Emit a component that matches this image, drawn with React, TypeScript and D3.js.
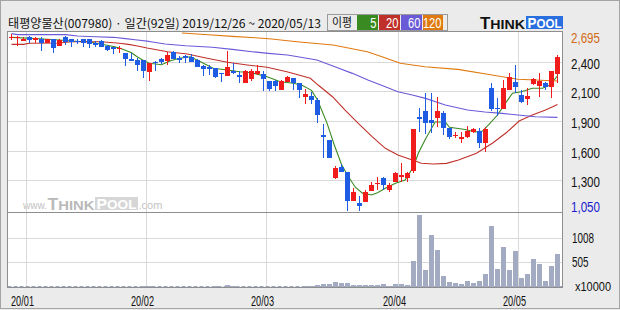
import React from "react";
import * as d3 from "d3";

const W = 620;
const H = 310;

const title = "태평양물산(007980) · 일간(92일) 2019/12/26 ~ 2020/05/13";
const legendTitle = "이평";
const maNames = ["5", "20", "60", "120"];
const maColors = ["#3a8a22", "#c0302a", "#6a5ad8", "#e07a10"];
const monthIdx = [3, 23, 43, 65, 85];
const monthLabels = ["20/01", "20/02", "20/03", "20/04", "20/05"];
const priceTickLabels = ["2,695", "2,400", "2,100", "1,900", "1,600", "1,300", "1,050"];
const priceMax = 2695;
const priceMin = 1050;
const volMax = 1512;
const volTickValues = [1008, 504];
const volTickLabels = ["1008", "505"];
const volUnit = "x10000";

const open = [
  2649, 2650, 2624, 2658, 2627, 2639, 2605, 2639, 2577, 2658, 2636, 2621, 2639, 2636, 2605, 2618,
  2577, 2565, 2555, 2507, 2457, 2445, 2445, 2337, 2430, 2452, 2439, 2516, 2464, 2482, 2476, 2445,
  2390, 2383, 2371, 2325, 2297, 2341, 2310, 2236, 2270, 2316, 2313, 2251, 2254, 2168, 2245, 2276,
  2230, 2100, 2113, 2076, 1752, 1706, 1358, 1459, 1413, 1145, 1127, 1130, 1238, 1300, 1358, 1244,
  1315, 1367, 1352, 1422, 1916, 1974, 1891, 1912, 1958, 1814, 1745, 1712, 1737, 1783, 1789, 1681,
  2189, 2002, 1992, 2168, 2242, 2122, 2085, 2221, 2205, 2236, 2199, 2316,
];
const high = [
  2689, 2667, 2655, 2665, 2655, 2655, 2642, 2642, 2637, 2667, 2640, 2636, 2642, 2640, 2621, 2630,
  2580, 2568, 2577, 2510, 2513, 2461, 2450, 2420, 2439, 2464, 2522, 2528, 2482, 2491, 2500, 2452,
  2399, 2399, 2371, 2325, 2531, 2414, 2346, 2353, 2365, 2399, 2346, 2251, 2263, 2260, 2300, 2276,
  2230, 2174, 2152, 2091, 1854, 1706, 1466, 1487, 1413, 1260, 1189, 1244, 1321, 1361, 1367, 1306,
  1413, 1491, 1407, 1808, 2001, 2140, 2143, 2101, 1974, 1814, 1777, 1783, 1835, 1820, 1814, 1823,
  2235, 2091, 2260, 2328, 2399, 2168, 2189, 2282, 2322, 2245, 2344, 2491,
];
const low = [
  2633, 2577, 2621, 2605, 2605, 2531, 2600, 2507, 2577, 2587, 2568, 2590, 2568, 2559, 2568, 2568,
  2528, 2503, 2513, 2393, 2439, 2344, 2282, 2251, 2347, 2408, 2402, 2452, 2414, 2420, 2424, 2383,
  2300, 2307, 2276, 2239, 2297, 2316, 2230, 2230, 2248, 2307, 2159, 2159, 2159, 2168, 2240, 2170,
  2097, 2041, 2036, 1866, 1542, 1542, 1346, 1408, 1053, 1145, 1053, 1130, 1238, 1244, 1244, 1228,
  1315, 1321, 1321, 1398, 1783, 1761, 1768, 1829, 1752, 1712, 1725, 1681, 1722, 1768, 1635, 1598,
  1977, 1928, 1992, 2168, 2143, 2051, 2029, 2214, 2106, 2168, 2091, 2230,
];
const close = [
  2661, 2657, 2639, 2627, 2646, 2599, 2639, 2559, 2627, 2609, 2609, 2612, 2605, 2596, 2584, 2568,
  2540, 2550, 2560, 2452, 2439, 2402, 2347, 2420, 2420, 2430, 2491, 2452, 2445, 2464, 2424, 2383,
  2365, 2359, 2291, 2315, 2381, 2328, 2291, 2344, 2347, 2344, 2270, 2177, 2205, 2251, 2291, 2230,
  2168, 2128, 2076, 1937, 1737, 1542, 1450, 1408, 1145, 1223, 1099, 1223, 1290, 1312, 1290, 1290,
  1398, 1383, 1398, 1808, 1900, 1866, 1866, 1974, 1820, 1737, 1755, 1731, 1789, 1808, 1681, 1808,
  1992, 1990, 2189, 2285, 2199, 2060, 2115, 2267, 2251, 2199, 2344, 2476,
];
const volume = [
  6, 5, 7, 5, 6, 8, 5, 9, 6, 7, 5, 6, 7, 5, 6, 8, 6, 7, 5, 9, 8, 10,
  22,
  12, 8, 7, 9, 8, 7, 6, 8, 7, 9, 10, 12, 9,
  42,
  14, 10, 9, 8, 8, 10, 9, 8, 7, 9, 8, 10,
  14, 21, 35, 63, 63, 98, 84, 84, 42, 42, 42, 42, 42, 63, 14, 63, 63, 42,
  537, 1512, 348, 1087, 767, 223, 98, 84, 63, 118, 84, 118, 265,
  1268, 369, 829, 348, 746, 181, 265, 578, 481, 118, 432, 683,
];

// moving averages: [day index, price]
const ma5 = [
  [0, 2655], [4, 2644], [8, 2630], [10, 2621], [13, 2612], [15, 2591], [17, 2570], [18, 2556],
  [20, 2513], [21, 2473], [22, 2441], [23, 2415], [25, 2402], [26.5, 2439], [28, 2461],
  [29.8, 2476], [31.5, 2430], [33.6, 2369], [36, 2353], [38, 2337], [40, 2328], [42.6, 2291],
  [44.8, 2245], [47, 2230], [48.5, 2210], [50, 2165], [51, 2076], [52.6, 1860], [53.8, 1660],
  [55, 1480], [56, 1380], [57.3, 1270], [58.5, 1215], [60, 1198], [61, 1219], [62.3, 1260],
  [64, 1306], [65.6, 1336], [67, 1459], [67.8, 1583], [69, 1715], [70.6, 1872], [72.3, 1872],
  [73, 1823], [75.6, 1803], [77.3, 1780], [78.5, 1789], [79.5, 1845], [81, 1937], [82.3, 2045],
  [83.5, 2138], [85, 2152], [86.8, 2184], [88.5, 2184], [89.8, 2214], [91, 2300],
];
const ma20 = [
  [0, 2590], [2, 2590], [3, 2600], [8, 2602], [10, 2614], [15, 2614], [17, 2605], [18, 2600],
  [19.5, 2590], [21, 2575], [22.6, 2556], [26, 2522], [29.3, 2501], [32.6, 2461], [36, 2424],
  [39.3, 2399], [42.6, 2378], [45.9, 2337], [49.8, 2276], [51.1, 2214], [53.5, 2106],
  [55.6, 1983], [57.8, 1860], [60.1, 1737], [62.3, 1629], [64.4, 1567], [66.8, 1521],
  [68.3, 1491], [70.3, 1484], [72.5, 1490], [74.5, 1521], [77.5, 1583], [80.2, 1678],
  [82.5, 1775], [84.6, 1882], [86.8, 1937], [89, 1983], [91, 2035],
];
const ma60 = [
  [0, 2689], [1, 2680], [9, 2680], [11, 2667], [14, 2661], [17, 2655], [19, 2643], [20.6, 2633],
  [22.6, 2620], [23.5, 2612], [25.6, 2593], [29, 2577], [33.5, 2563], [36.8, 2544], [40.1, 2522],
  [42.8, 2507], [46, 2491], [50.9, 2445], [53.9, 2383], [56.8, 2322], [59.4, 2260], [62.3, 2199],
  [64.4, 2152], [66.8, 2122], [69, 2091], [72.3, 2029], [76, 1983], [78.9, 1965], [81.8, 1952],
  [84.4, 1937], [87.3, 1921], [91, 1915],
];
const ma120 = [
  [28.4, 2695], [32.8, 2679], [36.8, 2664], [40.6, 2651], [43.4, 2639], [46, 2624], [48, 2612],
  [53.6, 2584], [59.3, 2522], [62, 2470], [64.8, 2415], [68.9, 2383], [74.4, 2359], [80.1, 2307],
  [84.4, 2267], [87.3, 2260], [91, 2251],
];
const maSeries = [ma5, ma20, ma60, ma120];

const UP = "#f01c1c";
const DOWN = "#1e5ce4";
const GRID = "#d9d9d9";
const FRAME = "#8e8e8e";
const BG = "#ebebeb";
const VOL = "#a3abc2";
const NUM_FONT = "'Liberation Sans', Arial, sans-serif";
const KR_FONT = "'Noto Sans CJK KR', 'Noto Sans', sans-serif";

export default function App() {
  const n = open.length;
  const plotL = 7.5, plotR = 562.5, priceTop = 31.5, priceBot = 212.5, volBot = 287.5;

  const x = d3.scaleBand<number>().domain(d3.range(n)).range([8, 8 + 6 * n]);
  const xc = d3.scaleLinear().domain([0, 1]).range([(x(0) as number) + 3.5, (x(1) as number) + 3.5]);
  const yP = d3.scaleLinear().domain([priceMin, priceMax]).range([211, 33]);
  const yV = d3.scaleLinear().domain([0, volMax]).range([287, 214.5]);

  const line = d3.line<number[]>().x((d) => xc(d[0])).y((d) => yP(d[1]));

  const priceTicks = d3.range(priceTickLabels.length).map(
    (k) => priceMax - (k * (priceMax - priceMin)) / (priceTickLabels.length - 1)
  );

  const legendBoxes = [
    { x: 357, w: 21 },
    { x: 379, w: 21 },
    { x: 401, w: 21 },
    { x: 423, w: 20 },
  ];

  return (
    <div style={{ position: "absolute", left: 0, top: 0 }}>
      <svg width={W} height={H} style={{ display: "block" }}>
        <rect x={0} y={0} width={W} height={H} fill={BG} />
        <rect x={0.5} y={0.5} width={619} height={308} fill="none" stroke="#a4a4a4" />

        {/* header */}
        <text x={8} y={27.5} fontFamily={KR_FONT} fontSize={12} fill="#111" textLength={313} lengthAdjust="spacingAndGlyphs">
          {title}
        </text>
        <rect x={327.5} y={14.5} width={120} height={16} fill="none" stroke="#9a9a9a" />
        <text x={332} y={27} fontFamily={KR_FONT} fontSize={12} fill="#111" textLength={20} lengthAdjust="spacingAndGlyphs">
          {legendTitle}
        </text>
        {maNames.map((m, i) => (
          <g key={m}>
            <rect x={legendBoxes[i].x} y={15} width={legendBoxes[i].w} height={15} fill={maColors[i]} />
            <text
              x={legendBoxes[i].x + legendBoxes[i].w - 1.5 - m.length * 6.2}
              y={27.5}
              fontFamily={NUM_FONT}
              fontSize={14}
              fill="#fff"
              textLength={m.length * 6.2}
              lengthAdjust="spacingAndGlyphs"
            >
              {m}
            </text>
          </g>
        ))}

        {/* logo */}
        <text x={480} y={28.5} fontFamily={NUM_FONT} fontWeight={900} fill="#111" textLength={45} lengthAdjust="spacingAndGlyphs">
          <tspan fontSize={16}>T</tspan>
          <tspan fontSize={13.5}>HINK</tspan>
        </text>
        <rect x={526} y={16} width={37} height={13} fill="#2a6fe0" />
        <text x={527.5} y={28} fontFamily={NUM_FONT} fontWeight={900} fill="#fff" textLength={34} lengthAdjust="spacingAndGlyphs">
          <tspan fontSize={15}>P</tspan>
          <tspan fontSize={13}>OOL</tspan>
        </text>

        {/* plot backgrounds */}
        <rect x={plotL} y={priceTop} width={plotR - plotL} height={volBot - priceTop} fill="#fff" />

        {/* watermark */}
        <text x={23} y={209} fontFamily={NUM_FONT} fontSize={10} fill="#c2c2c2" textLength={24} lengthAdjust="spacingAndGlyphs">
          www.
        </text>
        <text x={47.5} y={209.5} fontFamily={NUM_FONT} fontWeight={900} fill="#b9b9b9" textLength={47} lengthAdjust="spacingAndGlyphs">
          <tspan fontSize={16}>T</tspan>
          <tspan fontSize={13.5}>HINK</tspan>
        </text>
        <rect x={95} y={197} width={43} height={13} fill="#d6d6d6" />
        <text x={96.5} y={209} fontFamily={NUM_FONT} fontWeight={900} fill="#fff" textLength={40} lengthAdjust="spacingAndGlyphs">
          <tspan fontSize={15}>P</tspan>
          <tspan fontSize={13}>OOL</tspan>
        </text>
        <text x={138.5} y={209} fontFamily={NUM_FONT} fontSize={11} fill="#c2c2c2" textLength={24} lengthAdjust="spacingAndGlyphs">
          .com
        </text>

        {/* grid */}
        <g shapeRendering="crispEdges" stroke={GRID} strokeWidth={1}>
          {priceTicks.slice(1, -1).map((v, k) => {
            const yy = Math.round(yP(v)) - 0.5;
            return <line key={"pg" + k} x1={plotL} x2={plotR} y1={yy} y2={yy} />;
          })}
          {volTickValues.map((v, k) => {
            const yy = Math.round(yV(v)) - 0.5;
            return <line key={"vg" + k} x1={plotL} x2={plotR} y1={yy} y2={yy} />;
          })}
          {monthIdx.map((m, k) => {
            const xx = (x(m) as number) + 0.5;
            return <line key={"mg" + k} x1={xx} x2={xx} y1={priceTop} y2={volBot} />;
          })}
        </g>

        {/* volume */}
        <line x1={plotL} x2={plotR} y1={286.5} y2={286.5} stroke="#9ea6be" strokeDasharray="4,2" />
        <g shapeRendering="crispEdges" fill={VOL}>
          {volume.map((v, i) => (
            <rect key={"v" + i} x={(x(i) as number) + 1} y={yV(v)} width={5} height={yV(0) - yV(v)} />
          ))}
        </g>

        {/* moving averages */}
        <g fill="none" strokeWidth={1.1}>
          {maSeries.map((s, k) => (
            <path key={"ma" + k} d={line(s) || ""} stroke={maColors[k]} />
          ))}
        </g>

        {/* candles */}
        <g shapeRendering="crispEdges">
          {open.map((o, i) => {
            const c = close[i];
            const col = c >= o ? UP : DOWN;
            const cx = (x(i) as number) + 3.5;
            const top = yP(Math.max(o, c));
            const bot = yP(Math.min(o, c));
            return (
              <g key={"c" + i}>
                <line x1={cx} x2={cx} y1={yP(high[i])} y2={yP(low[i])} stroke={col} />
                <rect x={(x(i) as number) + 1} y={top} width={5} height={Math.max(1, bot - top)} fill={col} />
              </g>
            );
          })}
        </g>

        {/* frames */}
        <g fill="none" stroke={FRAME} shapeRendering="crispEdges">
          <rect x={plotL} y={priceTop} width={plotR - plotL} height={priceBot - priceTop} />
          <rect x={plotL} y={priceBot} width={plotR - plotL} height={volBot - priceBot} />
        </g>

        {/* price axis labels */}
        {priceTicks.map((v, k) => {
          const yy = Math.min(Math.max(yP(v) + 1, 38), 207);
          const fill = k === 0 ? "#d06a14" : k === priceTicks.length - 1 ? "#1a1ad0" : "#111";
          return (
            <text
              key={"pl" + k}
              x={571}
              y={yy}
              dominantBaseline="central"
              fontFamily={NUM_FONT}
              fontSize={14.5}
              fill={fill}
              textLength={29}
              lengthAdjust="spacingAndGlyphs"
            >
              {priceTickLabels[k]}
            </text>
          );
        })}

        {/* volume axis labels */}
        {volTickValues.map((v, k) => (
          <text
            key={"vl" + k}
            x={572}
            y={yV(v) - 0.5}
            dominantBaseline="central"
            fontFamily={NUM_FONT}
            fontSize={14.5}
            fill="#111"
            textLength={volTickLabels[k].length * 5.5}
            lengthAdjust="spacingAndGlyphs"
          >
            {volTickLabels[k]}
          </text>
        ))}
        <text x={575} y={287} dominantBaseline="central" fontFamily={NUM_FONT} fontSize={12.5} fill="#111" textLength={36} lengthAdjust="spacingAndGlyphs">
          {volUnit}
        </text>

        {/* month labels */}
        {monthIdx.map((m, k) => (
          <text
            key={"ml" + k}
            x={(x(m) as number) + 0.5 - 4}
            y={301}
            dominantBaseline="central"
            textAnchor="middle"
            fontFamily={NUM_FONT}
            fontSize={14.5}
            fill="#111"
            textLength={23}
            lengthAdjust="spacingAndGlyphs"
          >
            {monthLabels[k]}
          </text>
        ))}
      </svg>
    </div>
  );
}
